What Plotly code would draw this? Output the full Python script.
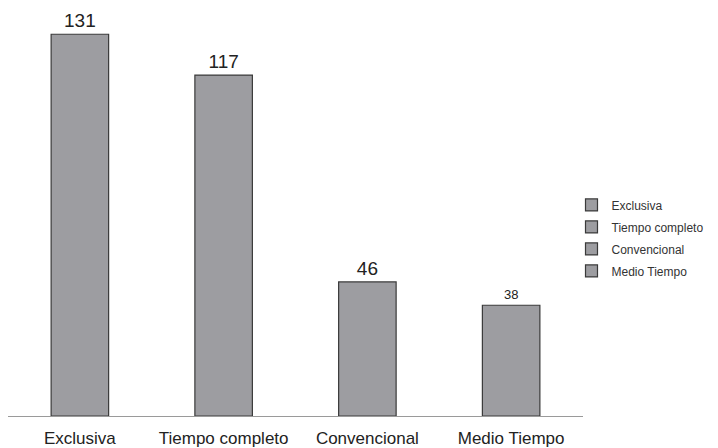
import plotly.graph_objects as go

categories = ["Exclusiva", "Tiempo completo", "Convencional", "Medio Tiempo"]
values = [131, 117, 46, 38]
label_sizes = [19, 19, 19, 13]

fig = go.Figure()

for cat, val, fs in zip(categories, values, label_sizes):
    fig.add_trace(go.Bar(
        x=[cat], y=[val], name=cat, legendgroup=cat,
        width=0.4,
        marker=dict(color="#9d9da1", line=dict(color="#3a3a3a", width=1.2)),
        text=[str(val)], textposition="outside",
        textfont=dict(size=fs, color="#222222"),
        cliponaxis=False,
    ))

# page body adds an 8px offset, margins allow for it
fig.update_layout(
    width=718, height=448,
    margin=dict(l=0, r=143, t=0, b=40),
    barmode="overlay",
    plot_bgcolor="white", paper_bgcolor="white",
    font=dict(family="Liberation Sans, Arial, sans-serif", color="#222222"),
    showlegend=True,
    legend=dict(
        x=0.98, y=0.553, xanchor="left", yanchor="top",
        font=dict(size=12, color="#333333"),
        itemwidth=30, tracegroupgap=3,
        bgcolor="rgba(0,0,0,0)",
    ),
)

fig.update_xaxes(
    showline=True, linecolor="#9a9a9a", linewidth=1,
    ticks="", ticklabelstandoff=7, tickfont=dict(size=17, color="#222222"),
    showgrid=False,
)
fig.update_yaxes(
    range=[0, 140], showline=True, linecolor="#9a9a9a", linewidth=1,
    showticklabels=False, ticks="", showgrid=False, zeroline=False,
)

fig.write_html("out.html")
